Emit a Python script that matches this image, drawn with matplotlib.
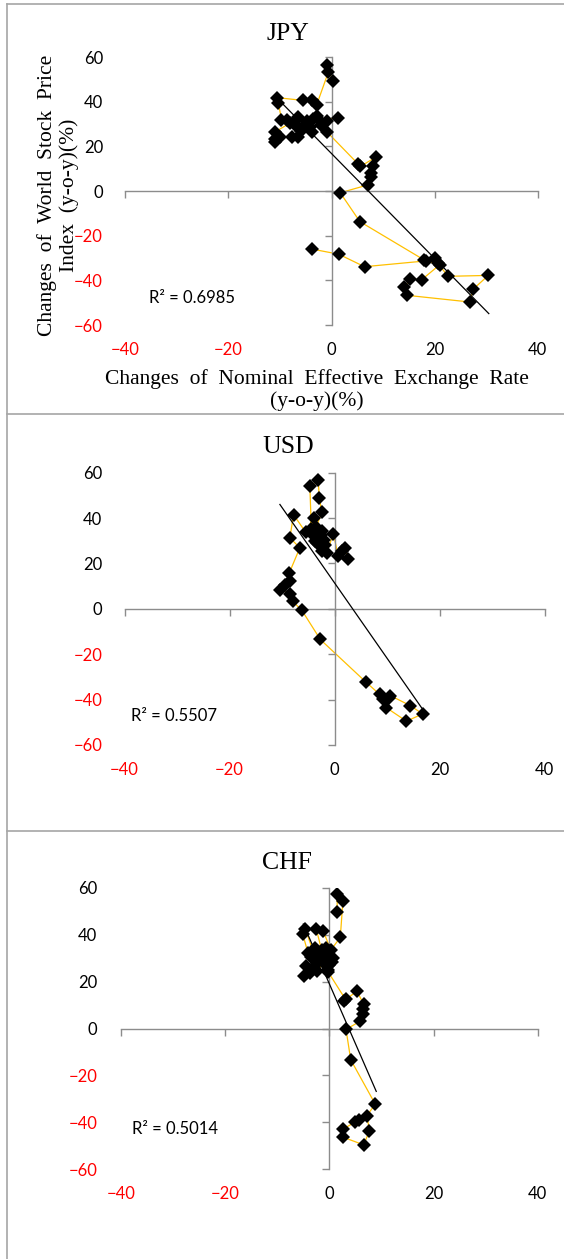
import matplotlib.pyplot as plt
from matplotlib.lines import Line2D

W, H = 564, 1259

# ---- data (x: NEER change, y: stock index change) ----
jpy_x = [0.35, -0.9, -0.6, -2.9, -3.8, -5.6, -10.6, -10.3, -9.7, -8.7, -8.0, -10.9, -10.9, -10.9, -9.9,
         -7.7, -6.4, -6.0, -6.7, -7.1, -6.4, -5.0, -4.8, -4.2, -3.8, -3.5, -2.9, -2.0, -2.2, 1.3, -0.9, -0.9,
         5.2, 5.6, 8.7, 8.0, 7.7, 7.7, 7.0, 1.7, 5.5, 17.9, 20.0, 20.6, 22.6, 30.4, 27.5, 26.8,
         14.6, 14.1, 15.3, 17.5, 21.0, 18.3, 6.4, 1.4, -3.8]
jpy_y = [49.1, 56.2, 53.3, 38.4, 40.9, 40.6, 41.8, 39.4, 32.0, 32.0, 30.5, 26.5, 23.5, 22.0, 24.3,
         24.3, 24.3, 27.0, 28.8, 31.5, 33.0, 30.0, 31.5, 28.5, 26.5, 32.3, 33.7, 29.5, 31.5, 32.9, 31.5, 26.5,
         12.0, 11.0, 15.3, 11.0, 8.0, 6.4, 2.7, -0.8, -13.7, -30.8, -30.0, -32.3, -38.2, -37.8, -43.9, -49.7,
         -46.7, -43.0, -39.4, -39.7, -33.0, -31.3, -33.9, -28.3, -26.0]

usd_x = [2.6, 2.0, 1.5, 0.7, -0.2, -1.5, -2.4, -1.8, -2.0, -2.4, -2.6, -3.0, -3.4, -3.8, -4.1, -3.5,
         -2.4, -2.9, -3.1, -4.7, -4.4, -4.0, -5.5, -7.8, -8.5, -6.6, -8.6, -8.5, -9.4, -10.4, -8.5,
         -8.0, -6.2, -2.7, 6.0, 8.6, 9.2, 10.6, 14.4, 16.8, 13.7, 9.9, 10.4]
usd_y = [22.0, 26.9, 25.5, 23.2, 33.2, 24.7, 25.4, 28.0, 30.5, 34.2, 32.5, 31.0, 29.0, 30.0, 32.7, 36.0,
         42.6, 48.9, 56.7, 54.0, 35.0, 40.1, 33.8, 41.5, 31.3, 26.9, 15.9, 12.2, 10.5, 8.5, 6.7,
         3.4, -0.7, -13.5, -32.3, -37.7, -39.9, -38.2, -42.6, -46.3, -49.5, -43.6, -39.5]

chf_x = [1.5, 1.5, 2.6, 2.1, 0.3, -1.2, -2.5, -1.5, -2.8, -3.1, -4.6, -5.1, -4.1, -3.5, -2.0, -2.4,
         -3.0, -4.5, -4.9, -3.8, -2.4, -1.0, -1.4, -0.7, -0.5, 0.0, 0.7, 0.5, 0.0, -0.3, -0.2,
         3.1, 2.8, 5.3, 6.6, 6.4, 6.4, 5.9, 3.2, 4.1, 8.8, 7.2, 7.7, 6.6, 2.6, 2.6, 5.0, 5.6]
chf_y = [49.7, 57.3, 54.4, 38.8, 33.5, 41.6, 42.3, 33.6, 34.5, 32.9, 42.3, 40.2, 32.2, 30.5, 31.5, 27.9,
         26.0, 26.5, 22.4, 23.7, 24.4, 28.0, 30.8, 34.3, 30.5, 32.9, 30.0, 28.5, 27.2, 25.1, 24.0,
         12.4, 11.8, 15.9, 10.3, 8.1, 6.0, 3.1, -0.4, -13.3, -32.2, -37.2, -43.5, -49.6, -46.3, -42.9, -39.8, -38.9]

# linear trendline end points
jpy_tx, jpy_ty = [-9.5, 30.5], [39.1, -54.9]
usd_tx, usd_ty = [-10.4, 16.8], [46.0, -44.3]
chf_tx, chf_ty = [-5.0, 9.0], [44.5, -26.8]

titles = ['JPY', 'USD', 'CHF']
r2_text = ['R\u00b2 = 0.6985', 'R\u00b2 = 0.5507', 'R\u00b2 = 0.5014']
xticks = [-40, -20, 0, 20, 40]
yticks = [-60, -40, -20, 0, 20, 40, 60]

TICKFONT = 'Lato'
SERIF = 'Liberation Serif'
AXCOL = '#8C8C8C'
LINECOL = '#FFC000'


def rect(l, t, r, b):
    return [l / W, 1 - b / H, (r - l) / W, (b - t) / H]


def panel(fig, box, x, y, tx, ty, title, title_xy, r2, r2_xy, ypad):
    ax = fig.add_axes(rect(*box))
    ax.set_xlim(-40, 40)
    ax.set_ylim(-60, 60)
    ax.set_xticks(xticks)
    ax.set_yticks(yticks)
    for s in ax.spines.values():
        s.set_visible(False)
    ax.tick_params(length=0, labelsize=12, pad=ypad, axis='y')
    ax.tick_params(length=0, labelsize=12, pad=12, axis='x')
    for lbl, v in zip(ax.get_xticklabels(), xticks):
        lbl.set_fontfamily(TICKFONT)
        lbl.set_color('red' if v < 0 else 'black')
    for lbl, v in zip(ax.get_yticklabels(), yticks):
        lbl.set_fontfamily(TICKFONT)
        lbl.set_color('red' if v < 0 else 'black')

    # axes crossing at zero
    ax2 = fig.add_axes(rect(*box), sharex=ax, sharey=ax)
    ax2.patch.set_alpha(0)
    ax2.spines['top'].set_visible(False)
    ax2.spines['right'].set_visible(False)
    ax2.spines['left'].set_position(('data', 0))
    ax2.spines['bottom'].set_position(('data', 0))
    for s in ['left', 'bottom']:
        ax2.spines[s].set_color(AXCOL)
        ax2.spines[s].set_linewidth(1.0)
    ax2.tick_params(direction='out', length=5, width=1.0, color=AXCOL,
                    labelleft=False, labelbottom=False)

    ax2.plot(x, y, color=LINECOL, lw=0.9, zorder=2)
    ax2.plot(x, y, 'D', color='black', ms=6.8, mew=0, zorder=3)
    ax2.plot(tx, ty, color='black', lw=0.9, zorder=4)
    ax2.text(r2_xy[0], r2_xy[1], r2, fontsize=12, family=TICKFONT,
             ha='left', va='center', zorder=5)

    fig.text(title_xy[0] / W, 1 - title_xy[1] / H, title, family=SERIF,
             fontsize=18.5, ha='center', va='center')
    return ax2


fig = plt.figure(figsize=(W / 100, H / 100), dpi=100)

panel(fig, (125.2, 57, 537.8, 325), jpy_x, jpy_y, jpy_tx, jpy_ty,
      titles[0], (288, 34), r2_text[0], (-35.4, -47.8), 16)
panel(fig, (124.5, 472.7, 544.5, 745), usd_x, usd_y, usd_tx, usd_ty,
      titles[1], (288, 447), r2_text[1], (-38.8, -47.0), 16)
panel(fig, (120.9, 887.7, 537.8, 1169.3), chf_x, chf_y, chf_tx, chf_ty,
      titles[2], (287, 863), r2_text[2], (-37.9, -43.0), 17)

# axis titles (only on the first chart)
fig.text(58.5 / W, 1 - 195 / H, 'Changes  of  World  Stock  Price\nIndex  (y-o-y)(%)',
         family=SERIF, fontsize=15.5, rotation=90, ha='center', va='center',
         multialignment='center', linespacing=1.15)
fig.text(317 / W, 1 - 390.5 / H, 'Changes  of  Nominal  Effective  Exchange  Rate\n(y-o-y)(%)',
         family=SERIF, fontsize=15.5, ha='center', va='center',
         multialignment='center', linespacing=1.15)

# chart frames
bc = '#A6A6A6'
fig.add_artist(Line2D([6.7 / W, 6.7 / W], [0, 1 - 3.5 / H], color=bc, lw=1.2))
for yy in [3.5, 414, 831]:
    fig.add_artist(Line2D([6.7 / W, 1], [1 - yy / H, 1 - yy / H], color=bc, lw=1.2))

fig.savefig('out.png', dpi=100)
